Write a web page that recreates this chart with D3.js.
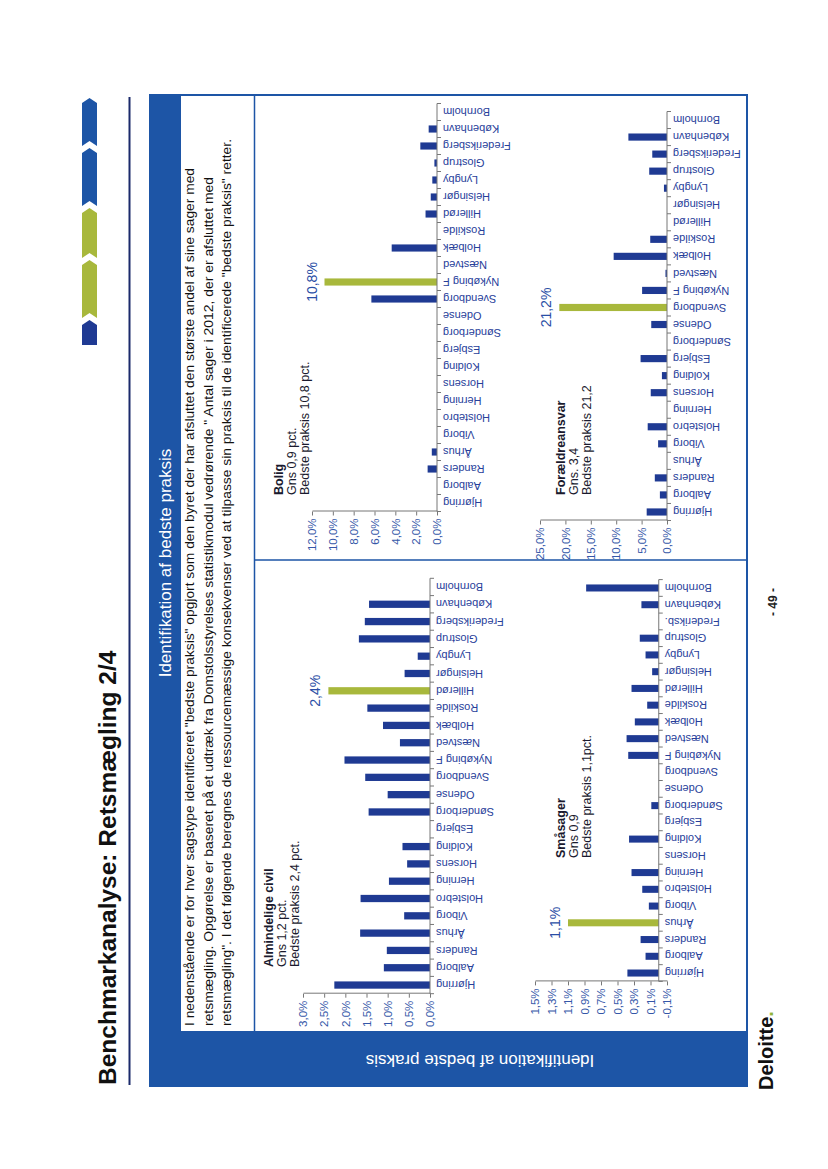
<!DOCTYPE html>
<html lang="da">
<head>
<meta charset="UTF-8">
<title>Benchmarkanalyse: Retsmægling 2/4</title>
<style>
    body { margin: 0; background: #fff; }
    svg { display: block; font-family: "Liberation Sans", Arial, sans-serif; }
    .cat-label { font-size: 11px; fill: #27409a; }
    .tick-label { font-size: 11.5px; fill: #3557a8; }
    .best-label { font-size: 14px; fill: #2a4ea5; }
    .chart-title { font-size: 12.5px; fill: #1a1a2e; }
</style>
</head>
<body>
<svg id="page" width="828" height="1169"></svg>
<script src="https://d3js.org/d3.v7.min.js"></script>
<script>
    // data (percent of cases settled with retsmægling)
    const categories = ["Hjørring", "Aalborg", "Randers", "Århus", "Viborg", "Holstebro", "Herning", "Horsens",
        "Kolding", "Esbjerg", "Sønderborg", "Odense", "Svendborg", "Nykøbing F", "Næstved", "Holbæk",
        "Roskilde", "Hillerød", "Helsingør", "Lyngby", "Glostrup", "Frederiksberg", "København", "Bornholm"];
    const smaaCategories = categories.map(c => c === "Frederiksberg" ? "Frederiksb." : c);

    const civilValues = [2.26, 1.09, 1.02, 1.65, 0.61, 1.64, 0.97, 0.54, 0.65, 0, 1.45, 1.0,
        1.53, 2.02, 0.71, 1.11, 1.48, 2.4, 0.6, 0.29, 1.68, 1.54, 1.44, 0];
    const boligValues = [0, 0, 0.9, 0.5, 0, 0, 0, 0, 0, 0, 0, 0,
        6.3, 10.8, 0, 4.35, 0, 1.1, 0.6, 0.45, 0.25, 1.6, 0.8, 0];
    const smaaValues = [0.38, 0.16, 0.22, 1.1, 0.12, 0.2, 0.33, 0, 0.36, 0, 0.09, 0,
        0, 0.37, 0.39, 0.29, 0.14, 0.33, 0.08, 0.16, 0.23, 0, 0.21, 0.88];
    const foraeldreValues = [4.0, 1.4, 2.4, 0, 1.75, 3.8, 0, 3.2, 1.0, 5.2, 0, 3.1,
        21.2, 4.9, 0.3, 10.5, 3.3, 0, 0, 0.6, 3.5, 2.9, 7.6, 0];

    const civilTicks = [0, 0.5, 1, 1.5, 2, 2.5, 3];
    const boligTicks = [0, 2, 4, 6, 8, 10, 12];
    const smaaTicks = [-0.1, 0.1, 0.3, 0.5, 0.7, 0.9, 1.1, 1.3, 1.5];
    const foraeldreTicks = [0, 5, 10, 15, 20, 25];

    const civilTitle = ["Almindelige civil", "Gns 1,2 pct.", "Bedste praksis 2,4 pct."];
    const boligTitle = ["Bolig", "Gns 0,9 pct.", "Bedste praksis 10,8 pct."];
    const smaaTitle = ["Småsager", "Gns 0,9", "Bedste praksis 1,1pct."];
    const foraeldreTitle = ["Forældreansvar", "Gns. 3,4", "Bedste praksis 21,2"];

    const introLines = [
        "I nedenstående er for hver sagstype identificeret \"bedste praksis\" opgjort som den byret der har afsluttet den største andel af sine sager med",
        "retsmægling. Opgørelse er baseret på et udtræk fra Domstolsstyrelses statistikmodul vedrørende \" Antal sager i 2012, der er afsluttet med",
        "retsmægling\". I det følgende beregnes de ressourcemæssige konsekvenser ved at tilpasse sin praksis til de identificerede \"bedste praksis\" retter."
    ];

    const navy = "#1f3a93";
    const green = "#a8b83c";
    const panelBlue = "#1d55a6";

    const svg = d3.select("#page");
    svg.append("rect").attr("width", 828).attr("height", 1169).attr("fill", "#fff");

    // the slide is landscape, turned a quarter to the left on the page
    const slide = svg.append("g").attr("transform", "translate(0,1169) rotate(-90)");

    // title + rule
    slide.append("text")
        .attr("x", 84).attr("y", 116)
        .attr("font-size", 24.5).attr("font-weight", "bold").attr("fill", "#111")
        .text("Benchmarkanalyse: Retsmægling 2/4");
    slide.append("line")
        .attr("x1", 84).attr("x2", 1072).attr("y1", 129.5).attr("y2", 129.5)
        .attr("stroke", "#1b2a6b").attr("stroke-width", 2);

    // chevrons top right
    const chevrons = [
        {from: 824, to: 849, color: navy},
        {from: 851, to: 909, color: green},
        {from: 911, to: 961, color: green},
        {from: 963, to: 1021, color: panelBlue},
        {from: 1023, to: 1071, color: panelBlue}
    ];
    chevrons.forEach((c, i) => {
        const t = 5, y0 = 82, y1 = 97, ym = 89.5;
        const start = i === 0 ? `${c.from},${y0}` : `${c.from},${y0} ${c.from + t},${ym}`;
        const pts = `${start} ${i === 0 ? c.from + "," + y1 : c.from + "," + y1} ${c.to - t},${y1} ${c.to},${ym} ${c.to - t},${y0}`;
        slide.append("polygon").attr("points", i === 0
            ? `${c.from},${y0} ${c.to - t},${y0} ${c.to},${ym} ${c.to - t},${y1} ${c.from},${y1}`
            : `${c.from},${y0} ${c.to - t},${y0} ${c.to},${ym} ${c.to - t},${y1} ${c.from},${y1} ${c.from + t},${ym}`)
            .attr("fill", c.color);
    });

    // blue panel with header band and side band
    slide.append("rect").attr("x", 82).attr("y", 149).attr("width", 993).attr("height", 599).attr("fill", panelBlue);
    slide.append("rect").attr("x", 138).attr("y", 181).attr("width", 935).attr("height", 565).attr("fill", "#fff");
    slide.append("text")
        .attr("x", 606).attr("y", 171).attr("text-anchor", "middle")
        .attr("font-size", 17).attr("fill", "#fff")
        .text("Identifikation af bedste praksis");
    slide.append("text")
        .attr("transform", "translate(114,480) rotate(-90)")
        .attr("text-anchor", "middle")
        .attr("font-size", 17).attr("fill", "#fff")
        .text("Identifikation af bedste praksis");

    // intro text box
    const introEnds = [1001, 992, 1030];
    introLines.forEach((line, i) => {
        slide.append("text")
            .attr("x", 143).attr("y", 194 + i * 18.5)
            .attr("font-size", 13.5).attr("fill", "#111")
            .attr("textLength", introEnds[i] - 143).attr("lengthAdjust", "spacingAndGlyphs")
            .text(line);
    });
    slide.append("line").attr("x1", 138).attr("x2", 1073).attr("y1", 254.5).attr("y2", 254.5)
        .attr("stroke", panelBlue).attr("stroke-width", 1.5);
    slide.append("line").attr("x1", 609).attr("x2", 609).attr("y1", 254).attr("y2", 746)
        .attr("stroke", panelBlue).attr("stroke-width", 1.5);

    // footer
    slide.append("text").attr("x", 567).attr("y", 777).attr("text-anchor", "middle")
        .attr("font-size", 12).attr("font-weight", "bold").attr("fill", "#222").text("- 49 -");
    const logo = slide.append("text").attr("x", 79).attr("y", 773)
        .attr("font-size", 20).attr("font-weight", "bold").attr("fill", "#111");
    logo.append("tspan").text("Deloitte");
    logo.append("tspan").attr("fill", "#8fb43a").text(".");

    const fmt = v => d3.format(".1f")(v).replace(".", ",").replace("−", "-") + "%";

    const charts = [
        {cats: categories, values: civilValues, ticks: civilTicks, title: civilTitle,
         x0: 175.3, x1: 590.7, yRange: [430, 303], titleX: 202, titleY: 273},
        {cats: categories, values: boligValues, ticks: boligTicks, title: boligTitle,
         x0: 657.5, x1: 1065.5, yRange: [437, 312], titleX: 674, titleY: 283},
        {cats: smaaCategories, values: smaaValues, ticks: smaaTicks, title: smaaTitle,
         x0: 187.6, x1: 589.4, yRange: [667, 535], titleX: 311, titleY: 565},
        {cats: categories, values: foraeldreValues, ticks: foraeldreTicks, title: foraeldreTitle,
         x0: 648.5, x1: 1057.5, yRange: [667, 540], titleX: 674, titleY: 565}
    ];

    charts.forEach(drawChart);

    function drawChart(cfg) {
        const g = slide.append("g");
        const x = d3.scaleBand().domain(cfg.cats).range([cfg.x0, cfg.x1])
            .paddingInner(0.58).paddingOuter(0.29);
        const y = d3.scaleLinear().domain(d3.extent(cfg.ticks)).range(cfg.yRange);
        const best = d3.maxIndex(cfg.values);
        const y0 = y(0);

        // value axis
        const yAxis = g.append("g")
            .attr("transform", `translate(${cfg.x0},0)`)
            .call(d3.axisLeft(y).tickValues(cfg.ticks).tickFormat(fmt).tickSizeInner(4).tickSizeOuter(0));
        yAxis.select(".domain").attr("stroke", "#777");
        yAxis.selectAll(".tick line").attr("stroke", "#777");
        yAxis.selectAll(".tick text").attr("class", "tick-label").attr("font-size", null).attr("fill", null)
            .attr("font-family", null);

        // bars
        g.selectAll("rect.bar")
            .data(cfg.values)
            .join("rect")
            .attr("class", "bar")
            .attr("x", (d, i) => x(cfg.cats[i]))
            .attr("width", x.bandwidth())
            .attr("y", d => Math.min(y(d), y0))
            .attr("height", d => Math.abs(y0 - y(d)))
            .attr("fill", (d, i) => i === best ? green : navy);

        // category axis at zero
        g.append("line").attr("x1", cfg.x0).attr("x2", cfg.x1).attr("y1", y0).attr("y2", y0)
            .attr("stroke", "#777");
        g.selectAll("line.cat-tick")
            .data(d3.range(cfg.cats.length + 1))
            .join("line")
            .attr("class", "cat-tick")
            .attr("x1", i => cfg.x0 + i * x.step()).attr("x2", i => cfg.x0 + i * x.step())
            .attr("y1", y0).attr("y2", y0 + 4)
            .attr("stroke", "#777");
        g.selectAll("text.cat-label")
            .data(cfg.cats)
            .join("text")
            .attr("class", "cat-label")
            .attr("transform", d => `translate(${x(d) + x.bandwidth() / 2},${y0 + 6}) rotate(-90)`)
            .attr("text-anchor", "end")
            .attr("dy", "0.35em")
            .text(d => d);

        // best practice value above its bar
        g.append("text")
            .attr("class", "best-label")
            .attr("x", x(cfg.cats[best]) + x.bandwidth() / 2)
            .attr("y", y(cfg.values[best]) - 8)
            .attr("text-anchor", "middle")
            .text(fmt(cfg.values[best]));

        // small title block
        cfg.title.forEach((t, i) => {
            g.append("text")
                .attr("class", "chart-title")
                .attr("x", cfg.titleX)
                .attr("y", cfg.titleY + i * 13)
                .attr("font-weight", i === 0 ? "bold" : null)
                .text(t);
        });
    }
</script>
</body>
</html>
